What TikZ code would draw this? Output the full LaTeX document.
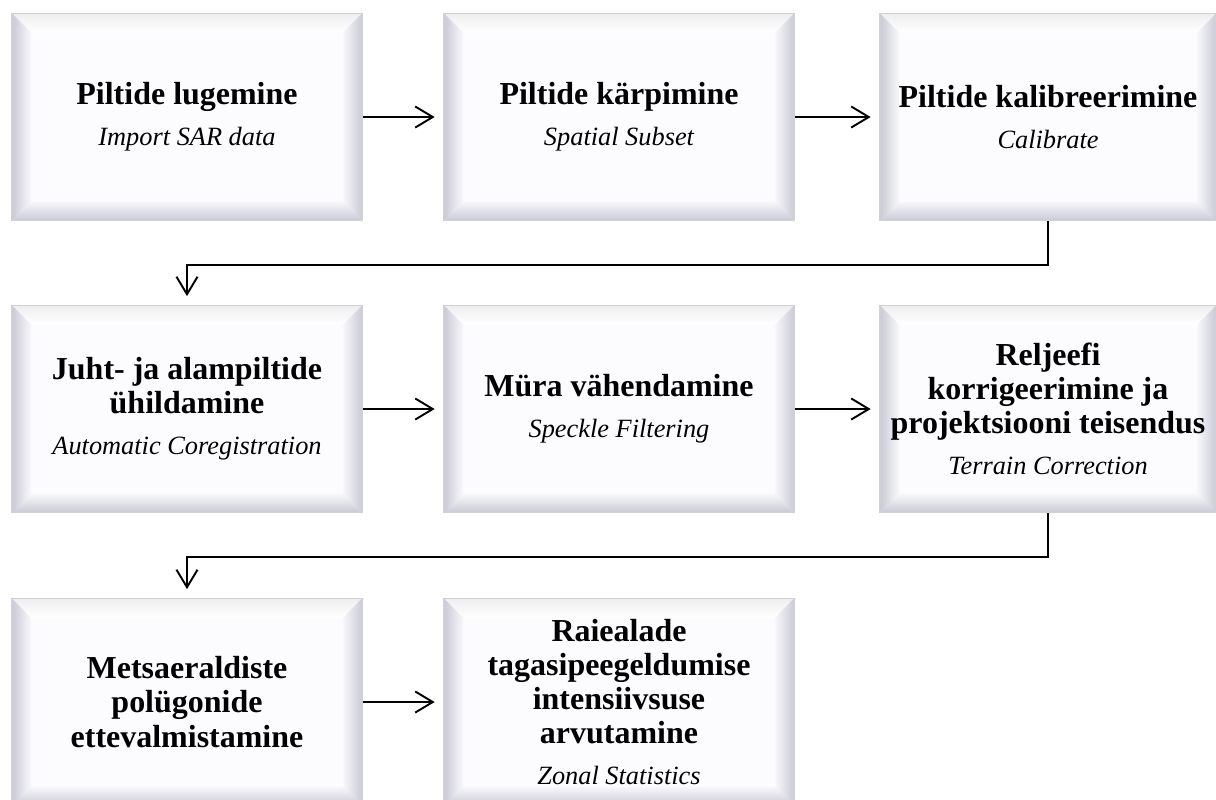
\documentclass[tikz,border=0pt]{standalone}
\usepackage{fontspec}
\setmainfont{Liberation Serif}
\usetikzlibrary{positioning, arrows.meta, calc}

\definecolor{bevelDark}{HTML}{CACAD6}
\definecolor{bevelLight}{HTML}{F8F8FB}
\definecolor{bevelTop}{HTML}{EEEEF0}
\definecolor{boxFace}{HTML}{FCFCFE}
\definecolor{boxEdge}{HTML}{D0D0D2}

\newlength{\bev}
\setlength{\bev}{0.38cm}

\newcommand{\titlefont}{\fontsize{18.2}{19.4}\selectfont\bfseries}
\newcommand{\subfont}{\fontsize{15}{18}\selectfont\mdseries\itshape}

\tikzset{
    stage/.style={
        rectangle, draw=boxEdge, line width=1pt, fill=boxFace,
        minimum width=7cm, minimum height=4.14cm, inner sep=0pt,
        align=center, font=\titlefont,
        path picture={
            \path (path picture bounding box.north west) coordinate (pnw)
                  (path picture bounding box.north east) coordinate (pne)
                  (path picture bounding box.south west) coordinate (psw)
                  (path picture bounding box.south east) coordinate (pse);
            % bevel edges
            \shade[top color=bevelTop, bottom color=white]
                (pnw) -- (pne) -- ([shift={(-\bev,-\bev)}]pne) -- ([shift={(\bev,-\bev)}]pnw) -- cycle;
            \shade[left color=bevelDark, right color=bevelLight]
                (pnw) -- ([shift={(\bev,-\bev)}]pnw) -- ([shift={(\bev,\bev)}]psw) -- (psw) -- cycle;
            \shade[left color=bevelLight, right color=bevelDark]
                (pne) -- (pse) -- ([shift={(-\bev,\bev)}]pse) -- ([shift={(-\bev,-\bev)}]pne) -- cycle;
            \shade[top color=bevelLight, bottom color=bevelDark]
                (psw) -- (pse) -- ([shift={(-\bev,\bev)}]pse) -- ([shift={(\bev,\bev)}]psw) -- cycle;
        }
    },
    flow/.style={-{Straight Barb[length=10pt, width=12pt]}, line width=1.1pt, shorten >=0.17cm}
}

\begin{document}
\begin{tikzpicture}[x=0.02cm, y=-0.02cm]
        \useasboundingbox (0, 0) rectangle (1216, 799);

        % rida 1
        \node[stage] (lugemine) at (187, 117) {Piltide lugemine\\[4pt]{\subfont Import SAR data}};
        \node[stage] (karpimine) at (619, 117) {Piltide kärpimine\\[4pt]{\subfont Spatial Subset}};
        \node[stage, minimum width=6.72cm] (kalibr) at (1048, 117) {Piltide kalibreerimine\\[4pt]{\subfont Calibrate}};

        % rida 2
        \node[stage] (juht) at (187, 409) {Juht- ja alampiltide\\ühildamine\\[4pt]{\subfont Automatic Coregistration}};
        \node[stage] (mura) at (619, 409) {Müra vähendamine\\[4pt]{\subfont Speckle Filtering}};
        \node[stage, minimum width=6.72cm] (reljeef) at (1048, 409) {Reljeefi\\korrigeerimine ja\\projektsiooni teisendus\\[4pt]{\subfont Terrain Correction}};

        % rida 3
        \node[stage] (mets) at (187, 702) {Metsaeraldiste\\polügonide\\ettevalmistamine};
        \node[stage] (raie) at (619, 702) {Raiealade\\tagasipeegeldumise\\intensiivsuse\\arvutamine\\[4pt]{\subfont Zonal Statistics}};

        % nooled
        \draw[flow] (lugemine) -- (karpimine);
        \draw[flow] (karpimine) -- (kalibr);
        \draw[flow] (kalibr.south) -- ++(0, 44) -| (juht.north);
        \draw[flow] (juht) -- (mura);
        \draw[flow] (mura) -- (reljeef);
        \draw[flow] (reljeef.south) -- ++(0, 44) -| (mets.north);
        \draw[flow] (mets) -- (raie);
    \end{tikzpicture}
\end{document}
